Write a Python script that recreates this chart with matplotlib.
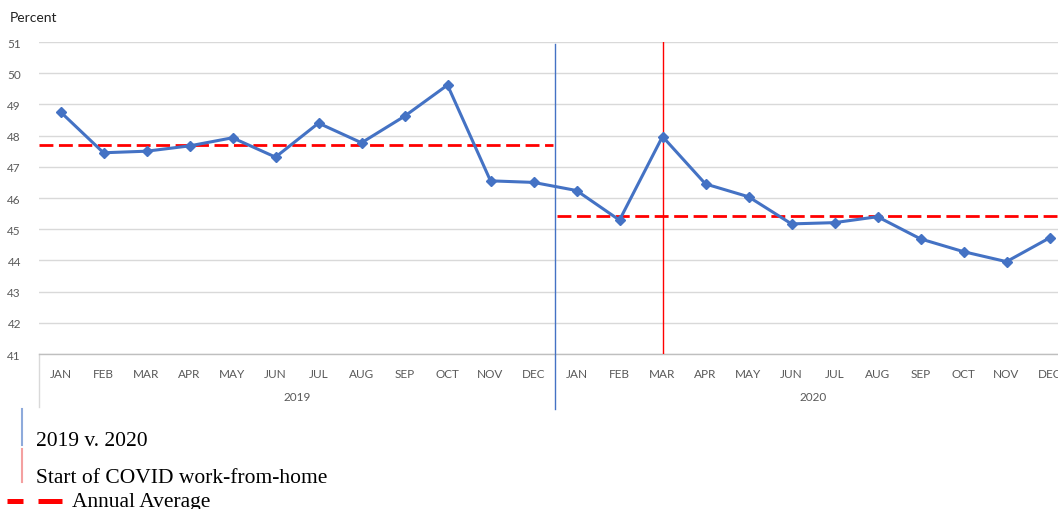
import matplotlib
matplotlib.use("Agg")
import matplotlib.pyplot as plt
import matplotlib.transforms as mtransforms
from matplotlib.lines import Line2D

months = ["JAN", "FEB", "MAR", "APR", "MAY", "JUN", "JUL", "AUG", "SEP", "OCT", "NOV", "DEC"]
years = ["2019", "2020"]
values_2019 = [48.76, 47.45, 47.50, 47.67, 47.93, 47.31, 48.40, 47.77, 48.62, 49.62, 46.55, 46.50]
values_2020 = [46.24, 45.29, 47.97, 46.45, 46.04, 45.17, 45.21, 45.40, 44.69, 44.28, 43.96, 44.72]
annual_avg = [47.70, 45.42]
covid_start_index = 14  # MAR 2020
y_ticks = list(range(41, 52))
legend_labels = ["2019 v. 2020", "Start of COVID work-from-home", "Annual Average"]

plt.rcParams["lines.scale_dashes"] = False
W, H = 1058, 510
fig = plt.figure(figsize=(W / 100, H / 100), dpi=100)

def fx(px):
    return px / W

def fy(py):
    return 1 - py / H

ax_left, ax_right, ax_top, ax_bottom = 39, 39 + 24 * 43, 43, 355
ax = fig.add_axes([fx(ax_left), fy(ax_bottom), (ax_right - ax_left) / W, (ax_bottom - ax_top) / H])

values = values_2019 + values_2020
xs = list(range(len(values)))
ax.set_xlim(-0.5, len(values) - 0.5)
ax.set_ylim(41, 51)

tick_font = dict(fontsize=8.5, color="#595959", family="Lato")
ax.set_yticks(y_ticks)
ax.set_yticklabels([str(t) for t in y_ticks], **tick_font)
ax.tick_params(axis="y", length=0, pad=13)
ax.grid(axis="y", color="#d9d9d9", linewidth=1)
ax.set_axisbelow(True)
for s in ["left", "right", "top"]:
    ax.spines[s].set_visible(False)
ax.spines["bottom"].set_color("#bfbfbf")
ax.spines["bottom"].set_linewidth(1)

ax.set_xticks(xs)
ax.set_xticklabels(months * 2, **tick_font)
ax.tick_params(axis="x", length=0, pad=10)

trans = mtransforms.blended_transform_factory(ax.transData, ax.transAxes)
ax_h = ax_bottom - ax_top
for i, yr in enumerate(years):
    ax.text(5.5 + 12 * i, -(398 - ax_bottom) / ax_h, yr, transform=trans, ha="center", va="center", **tick_font)
# group separators
for gx in [-0.5, 23.5]:
    ax.plot([gx, gx], [0, -(408 - ax_bottom) / ax_h], transform=trans, color="#d9d9d9",
            linewidth=1, clip_on=False)

# annual averages
n = len(months)
for i, avg in enumerate(annual_avg):
    x0 = -0.5 + n * i + (0.0 if i == 0 else 0.05)
    x1 = -0.5 + n * (i + 1) - (0.05 if i == 0 else 0.0)
    ax.plot([x0, x1], [avg, avg], color="#ff0000", linewidth=2, dashes=(10, 4), zorder=3)

# dividers
ax.plot([11.5, 11.5], [-(410 - ax_bottom) / ax_h, (ax_bottom - 45) / ax_h], transform=trans,
        color="#4472c4", linewidth=1, clip_on=False, zorder=4)
ax.plot([covid_start_index, covid_start_index], [0, 1], transform=trans,
        color="#ff0000", linewidth=1, zorder=4)

ax.plot(xs, values, color="#4472c4", linewidth=2.2, marker="D", markersize=5.5, zorder=5)

fig.text(fx(10), fy(18), "Percent", fontsize=10, color="#222222", family="Lato", ha="left", va="center")

# custom legend
leg_font = dict(fontsize=15.5, family="Liberation Serif", ha="left", va="baseline", color="black")
fig.add_artist(Line2D([fx(22), fx(22)], [fy(410), fy(446)], color="#8eaadb", linewidth=1.5))
fig.text(fx(36), fy(446), legend_labels[0], **leg_font)
fig.add_artist(Line2D([fx(22), fx(22)], [fy(450), fy(483)], color="#f4a0a0", linewidth=1.5))
fig.text(fx(36), fy(483), legend_labels[1], **leg_font)
fig.add_artist(Line2D([fx(7), fx(23)], [fy(502), fy(502)], color="#ff0000", linewidth=3.6, solid_capstyle="butt"))
fig.add_artist(Line2D([fx(38), fx(62)], [fy(502), fy(502)], color="#ff0000", linewidth=3.6, solid_capstyle="butt"))
fig.text(fx(72), fy(507), legend_labels[2], **leg_font)

fig.savefig("out.png", dpi=100)
